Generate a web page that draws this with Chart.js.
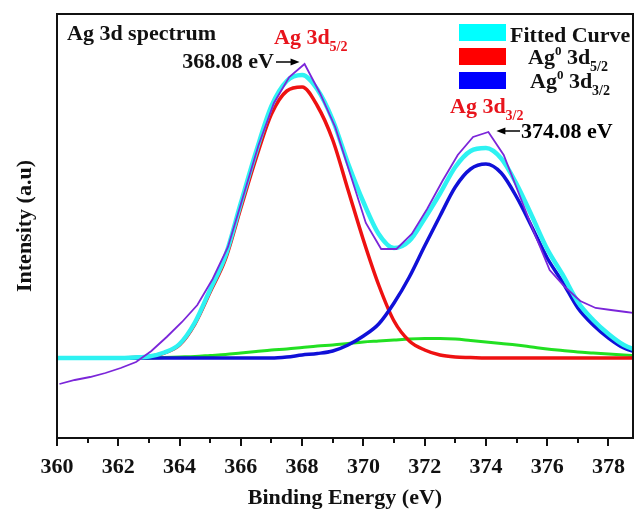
<!DOCTYPE html>
<html lang="en">
<head>
  <meta charset="UTF-8" />
  <title>Ag 3d spectrum</title>
  <script src="https://cdn.jsdelivr.net/npm/chart.js@4"></script>
  <style>
    body { margin: 0; background: #fff; }
    .chart-wrapper { position: relative; width: 635px; height: 509px; }
  </style>
</head>
<body>
  <div class="chart-wrapper"><canvas id="xpsChart"></canvas></div>

  <script>
    // binding energy grid of the fitted curves (eV)
    const energy = [360, 360.5, 361, 361.5, 362, 362.5, 363, 363.5, 364, 364.5, 365, 365.5, 366, 366.5,
      367, 367.5, 368, 368.5, 369, 369.5, 370, 370.5, 371, 371.5, 372, 372.5, 373, 373.5, 374, 374.5,
      375, 375.5, 376, 376.5, 377, 377.5, 378, 378.5, 379];

    const fittedCurve = [79, 79, 79, 79, 79, 79.5, 80.5, 84.5, 93, 114.5, 147.5, 181.5, 234, 285.5,
      331, 356, 362, 347.5, 317, 273.5, 235, 203, 189, 196, 218.5, 243.5, 270, 286, 289, 278.5,
      253, 221, 188, 162.5, 135, 117, 103, 92, 86];

    const ag52 = [79, 79, 79, 79, 79, 79.5, 80.5, 84, 92, 113, 145, 178, 229, 279,
      323, 346, 350, 331, 297, 247, 197, 152, 116, 96, 87, 82, 80, 79.5, 79, 79,
      79, 79, 79, 79, 79, 79, 79, 79, 79];

    const ag32 = [79, 79, 79, 79, 79, 79, 79, 79, 79, 79, 79, 79, 79, 79,
      79, 80, 82, 83.5, 86, 92, 101, 113, 134, 160, 191, 221, 250, 268, 273, 264,
      240, 210, 179, 155, 129, 112, 99, 89, 84];

    const background = [79, 79, 79, 79, 79, 79, 79, 79.5, 80, 80.5, 81.5, 82.5, 84, 85.5,
      87, 88, 89.5, 91, 92, 93.5, 95, 96, 97, 98, 98.5, 98.5, 98, 96.5, 95, 93.5,
      92, 90, 88, 86.5, 85, 84, 83, 82, 81];

    // measured spectrum
    const expEnergy = [360.08, 360.58, 361.08, 361.58, 362.08, 362.58, 363.08, 363.58, 364.08, 364.58,
      365.08, 365.58, 366.08, 366.58, 367.08, 367.58, 368.08, 368.58, 369.08, 369.58,
      370.08, 370.58, 371.08, 371.58, 372.08, 372.58, 373.08, 373.58, 374.08, 374.58,
      375.08, 375.58, 376.08, 376.58, 377.08, 377.58, 378.08, 378.58, 379.08];

    const expIntensity = [53, 57, 60, 64, 69, 75, 86, 100, 115, 132,
      158, 190, 241, 292, 334, 360, 373, 344, 310, 262,
      214, 188, 188, 203, 228, 256, 282, 300, 305, 282,
      243, 204, 167, 150, 136, 129, 127, 125, 123];

    const xTickLabels = [360, 362, 364, 366, 368, 370, 372, 374, 376, 378];

    const serif = "'Liberation Serif', 'Times New Roman', serif";

    function toPoints(xs, ys) {
      return xs.map((x, i) => ({ x: x, y: ys[i] }));
    }

    // text with sub/superscripts: parts = [[text, size, dy], ...]
    function drawRich(ctx, x, y, parts, color) {
      ctx.fillStyle = color;
      ctx.textAlign = 'left';
      ctx.textBaseline = 'alphabetic';
      parts.forEach(p => {
        ctx.font = 'bold ' + p[1] + 'px ' + serif;
        ctx.fillText(p[0], x, y + (p[2] || 0));
        x += ctx.measureText(p[0]).width;
      });
    }

    function arrow(ctx, x1, y, x2) {
      const dir = x2 > x1 ? 1 : -1;
      ctx.strokeStyle = '#000';
      ctx.fillStyle = '#000';
      ctx.lineWidth = 1.5;
      ctx.beginPath();
      ctx.moveTo(x1, y);
      ctx.lineTo(x2 - dir * 6, y);
      ctx.stroke();
      ctx.beginPath();
      ctx.moveTo(x2, y);
      ctx.lineTo(x2 - dir * 9, y - 3.5);
      ctx.lineTo(x2 - dir * 9, y + 3.5);
      ctx.closePath();
      ctx.fill();
    }

    const decorations = {
      id: 'decorations',
      afterDraw(chart) {
        const ctx = chart.ctx;
        const a = chart.chartArea;
        const xs = chart.scales.x;
        ctx.save();

        // frame
        ctx.strokeStyle = '#111';
        ctx.lineWidth = 2;
        ctx.strokeRect(a.left, a.top, a.right - a.left, a.bottom - a.top);

        // major / minor ticks
        for (let v = 360; v <= 378; v++) {
          const px = Math.round(xs.getPixelForValue(v));
          const len = v % 2 === 0 ? 8 : 5;
          ctx.beginPath();
          ctx.moveTo(px, a.bottom);
          ctx.lineTo(px, a.bottom + len);
          ctx.stroke();
        }

        // annotations
        drawRich(ctx, 67, 40, [['Ag 3d spectrum', 22]], '#111');
        drawRich(ctx, 274, 44, [['Ag 3d', 22], ['5/2', 14, 7]], '#e8141c');
        drawRich(ctx, 450, 113, [['Ag 3d', 22], ['3/2', 14, 7]], '#e8141c');

        ctx.font = 'bold 22px ' + serif;
        ctx.fillStyle = '#111';
        ctx.textAlign = 'right';
        ctx.fillText('368.08 eV', 274, 68);
        const p1 = xs.getPixelForValue(368.08);
        arrow(ctx, 276, 62, p1 - 5);

        const p2 = xs.getPixelForValue(374.08);
        arrow(ctx, 520, 131, p2 + 8);
        ctx.textAlign = 'left';
        ctx.fillText('374.08 eV', 521, 138);

        // legend
        const items = [
          ['#00ffff', [['Fitted Curve', 22]], 510, 42],
          ['#ff0000', [['Ag', 22], ['0', 13, -9], [' 3d', 22], ['5/2', 14, 7]], 528, 64],
          ['#0000ff', [['Ag', 22], ['0', 13, -9], [' 3d', 22], ['3/2', 14, 7]], 530, 88]
        ];
        items.forEach((it, i) => {
          ctx.fillStyle = it[0];
          ctx.fillRect(459, 24 + i * 24, 47, 17);
          drawRich(ctx, it[2], it[3], it[1], '#111');
        });

        ctx.restore();
      }
    };

    new Chart(document.getElementById('xpsChart'), {
      type: 'line',
      data: {
        datasets: [
          {
            label: 'Experimental',
            data: toPoints(expEnergy, expIntensity),
            borderColor: '#7b26d9',
            borderWidth: 1.8,
            pointRadius: 0,
            tension: 0,
            order: 0
          },
          {
            label: 'Fitted Curve',
            data: toPoints(energy, fittedCurve),
            borderColor: '#2ef2f2',
            borderWidth: 4.5,
            pointRadius: 0,
            cubicInterpolationMode: 'monotone',
            order: 1
          },
          {
            label: 'Ag0 3d3/2',
            data: toPoints(energy, ag32),
            borderColor: '#1010d8',
            borderWidth: 3.5,
            pointRadius: 0,
            cubicInterpolationMode: 'monotone',
            order: 2
          },
          {
            label: 'Ag0 3d5/2',
            data: toPoints(energy, ag52),
            borderColor: '#ee1111',
            borderWidth: 3.5,
            pointRadius: 0,
            cubicInterpolationMode: 'monotone',
            order: 3
          },
          {
            label: 'Background',
            data: toPoints(energy, background),
            borderColor: '#22e022',
            borderWidth: 3,
            pointRadius: 0,
            cubicInterpolationMode: 'monotone',
            order: 4
          }
        ]
      },
      options: {
        responsive: true,
        maintainAspectRatio: false,
        animation: false,
        layout: { padding: { top: 14, right: 2, left: 0, bottom: 0 } },
        plugins: {
          legend: { display: false },
          tooltip: { enabled: false }
        },
        scales: {
          x: {
            type: 'linear',
            min: 360,
            max: 378.8,
            grid: { display: false },
            border: { display: false },
            ticks: {
              stepSize: 1,
              includeBounds: false,
              padding: 8,
              color: '#111',
              font: { family: serif, size: 22, weight: 'bold' },
              maxRotation: 0,
              autoSkip: false,
              callback: function (value) {
                return xTickLabels.includes(value) ? value : '';
              }
            },
            title: {
              display: true,
              text: 'Binding Energy (eV)',
              color: '#111',
              font: { family: serif, size: 22, weight: 'bold', lineHeight: 1 },
              padding: { top: 0, bottom: 0 }
            },
            afterFit: function (scale) {
              scale.height = 71;
              scale.paddingLeft = 0;
              scale.paddingRight = 0;
            }
          },
          y: {
            min: -1,
            max: 423,
            grid: { display: false },
            border: { display: false },
            ticks: { display: false },
            title: {
              display: true,
              text: 'Intensity (a.u)',
              color: '#111',
              font: { family: serif, size: 22, weight: 'bold', lineHeight: 1 },
              padding: { top: 14, bottom: 0 }
            },
            afterFit: function (scale) { scale.width = 57; }
          }
        }
      },
      plugins: [decorations]
    });
  </script>
</body>
</html>
